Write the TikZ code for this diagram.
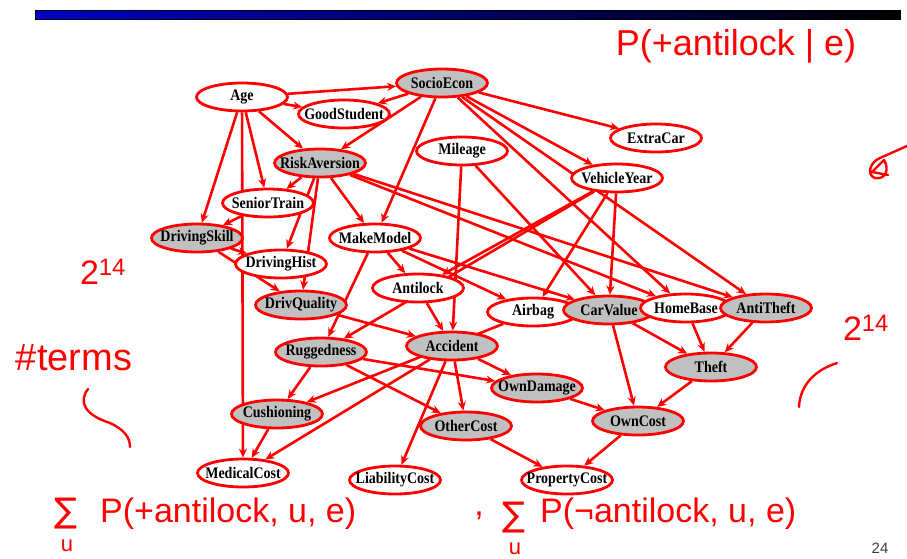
\documentclass[tikz,border=0pt]{standalone}
\usepackage{fontspec}
\setmainfont{Liberation Serif}
\newfontfamily\handfont{Liberation Sans}
\newfontfamily\sumfont{DejaVu Sans}
\usetikzlibrary{shapes.geometric,arrows.meta,backgrounds}
\definecolor{hred}{RGB}{255,0,0}
\definecolor{nodegray}{RGB}{192,192,192}
\newcommand{\nl}[1]{\makebox[0pt][c]{\scalebox{1}[1.15]{#1}}}
\begin{document}
\begin{tikzpicture}[x=1pt,y=-1pt,
  bn/.style={ellipse,draw=hred,line width=2.8pt,fill=white,minimum width=91pt,minimum height=28pt,inner sep=0pt,font=\fontsize{14}{14}\selectfont\bfseries},
  obs/.style={bn,fill=nodegray},
  arc/.style={draw=hred,line width=2.6pt,-{Stealth[length=9pt,width=8pt]}},
  hand/.style={text=hred,font=\handfont\fontsize{34}{34}\selectfont,inner sep=0pt},
  stroke/.style={draw=hred,line width=2.4pt,line cap=round,line join=round}]
\useasboundingbox (0,0) rectangle (907,558);
% top bar
\shade[left color={rgb,255:red,0;green,0;blue,200}, right color=black] (35,10) rectangle (900,19);
\draw[black,line width=0.8pt] (35,10) rectangle (900,19);
% nodes
\node[bn]  (age)      at (242,97)  {\nl{Age}};
\node[obs] (socio)    at (442,83)  {\nl{SocioEcon}};
\node[bn]  (good)     at (344,114) {\nl{GoodStudent}};
\node[bn]  (extra)    at (656,138) {\nl{ExtraCar}};
\node[obs] (risk)     at (320,163) {\nl{RiskAversion}};
\node[bn]  (mileage)  at (462,151) {\nl{Mileage}};
\node[bn]  (vehicle)  at (617,178) {\nl{VehicleYear}};
\node[bn]  (senior)   at (268,203) {\nl{SeniorTrain}};
\node[obs] (dskill)   at (197,238) {\nl{DrivingSkill}};
\node[bn]  (make)     at (375,238) {\nl{MakeModel}};
\node[bn]  (dhist)    at (281,264) {\nl{DrivingHist}};
\node[bn]  (antilock) at (418,288) {\nl{Antilock}};
\node[obs] (dqual)    at (301,305) {\nl{DrivQuality}};
\node[bn]  (airbag)   at (533,312) {\nl{Airbag}};
\node[obs] (carvalue) at (609,310) {\nl{CarValue}};
\node[bn]  (homebase) at (686,308) {\nl{HomeBase}};
\node[obs] (antitheft) at (766,308) {\nl{AntiTheft}};
\node[obs] (rugged)   at (321,352) {\nl{Ruggedness}};
\node[obs] (accident) at (452,346) {\nl{Accident}};
\node[obs] (theft)    at (711,367) {\nl{Theft}};
\node[obs] (owndam)   at (537,388) {\nl{OwnDamage}};
\node[obs] (cushion)  at (277,414) {\nl{Cushioning}};
\node[obs] (othercost) at (466,426) {\nl{OtherCost}};
\node[obs] (owncost)  at (638,421) {\nl{OwnCost}};
\node[bn]  (medical)  at (243,473) {\nl{MedicalCost}};
\node[bn]  (liab)     at (395,480) {\nl{LiabilityCost}};
\node[bn]  (property) at (567,480) {\nl{PropertyCost}};
% edges
\begin{scope}[on background layer]
\draw[arc] (age) -- (socio);
\draw[arc] (age) -- (good);
\draw[arc] (age) -- (risk);
\draw[arc] (age) -- (senior);
\draw[arc] (age) -- (dskill);
\draw[arc] (age) -- (medical);
\draw[arc] (socio) -- (good);
\draw[arc] (socio) -- (risk);
\draw[arc] (socio) -- (make);
\draw[arc] (socio) -- (extra);
\draw[arc] (socio) -- (vehicle);
\draw[arc] (socio) -- (homebase);
\draw[arc] (socio) -- (antitheft);
\draw[arc] (risk) -- (senior);
\draw[arc] (risk) -- (dhist);
\draw[arc] (risk) -- (dqual);
\draw[arc] (risk) -- (make);
\draw[arc] (risk) -- (homebase);
\draw[arc] (risk) -- (antitheft);
\draw[arc] (senior) -- (dskill);
\draw[arc] (dskill) -- (dhist);
\draw[arc] (dskill) -- (dqual);
\draw[arc] (mileage) -- (accident);
\draw[arc] (mileage) -- (carvalue);
\draw[arc] (vehicle) -- (antilock);
\draw[arc] (vehicle) -- (rugged);
\draw[arc] (vehicle) -- (airbag);
\draw[arc] (vehicle) -- (carvalue);
\draw[arc] (make) -- (antilock);
\draw[arc] (make) -- (rugged);
\draw[arc] (make) -- (airbag);
\draw[arc] (make) -- (carvalue);
\draw[arc] (dqual) -- (accident);
\draw[arc] (antilock) -- (accident);
\draw[arc] (airbag) -- (cushion);
\draw[arc] (rugged) -- (cushion);
\draw[arc] (rugged) -- (owndam);
\draw[arc] (rugged) -- (othercost);
\draw[arc] (accident) -- (owndam);
\draw[arc] (accident) -- (othercost);
\draw[arc] (accident) -- (liab);
\draw[arc] (accident) -- (medical);
\draw[arc] (cushion) -- (medical);
\draw[arc] (carvalue) -- (theft);
\draw[arc] (carvalue) -- (owncost);
\draw[arc] (homebase) -- (theft);
\draw[arc] (antitheft) -- (theft);
\draw[arc] (theft) -- (owncost);
\draw[arc] (owndam) -- (owncost);
\draw[arc] (othercost) -- (property);
\draw[arc] (owncost) -- (property);
\end{scope}
% handwritten annotations
\node[hand,font=\handfont\fontsize{36}{36}\selectfont] (hw1) at (736,46) {P(+antilock | e)};
\node[hand] (hw2) at (103,272) {2\textsuperscript{14}};
\node[hand,font=\handfont\fontsize{38}{38}\selectfont] (hw3) at (74,358) {\#terms};
\node[hand] (hw4) at (866,328) {2\textsuperscript{14}};
\node[hand,font=\sumfont\fontsize{34}{34}\selectfont] (s1) at (66,514) {∑};
\node[hand,font=\handfont\fontsize{22}{22}\selectfont] (u1) at (67,546) {u};
\node[hand,anchor=west] (hw5) at (100,514) {P(+antilock, u, e)};
\node[hand] (c2) at (479,516) {,};
\node[hand,font=\sumfont\fontsize{34}{34}\selectfont] (s2) at (514,518) {∑};
\node[hand,font=\handfont\fontsize{22}{22}\selectfont] (u2) at (515,549) {u};
\node[hand,anchor=west] (hw6) at (540,514) {P(¬antilock, u, e)};
\draw[stroke] (88,389) .. controls (78,402) and (85,415) .. (110,423) .. controls (125,430) and (130,438) .. (130,447);
\draw[stroke] (837,363) .. controls (815,370) and (800,385) .. (799,407);
\draw[stroke] (907,146) -- (880,158) .. controls (870,162) and (866,175) .. (875,178) .. controls (885,180) and (890,170) .. (884,160) -- (872,172) -- (888,175);
\node[font=\handfont\fontsize{15}{15}\selectfont,text=black!75] (pg) at (880,548) {24};
\end{tikzpicture}
\end{document}
